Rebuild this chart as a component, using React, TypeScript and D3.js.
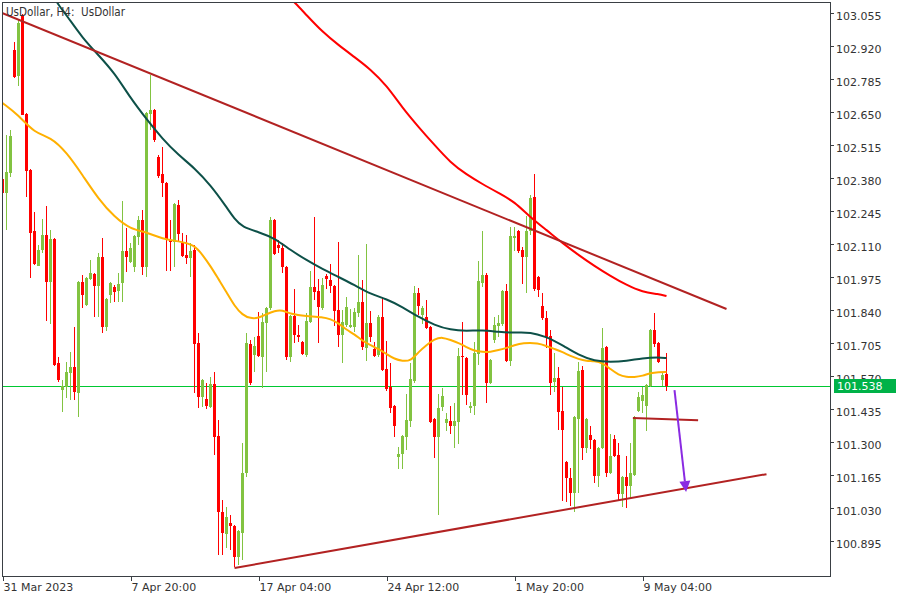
import React from 'react';
import * as d3 from 'd3';

const W = 900;
const H = 600;

// Time axis
const timeTickBars = [0, 32, 64, 96, 128, 160];
const timeTickLabels = ['31 Mar 2023', '7 Apr 20:00', '17 Apr 04:00', '24 Apr 12:00', '1 May 20:00', '9 May 04:00'];

// Price axis
const priceTicks = [103.055, 102.92, 102.785, 102.65, 102.515, 102.38, 102.245, 102.11, 101.975, 101.84, 101.705, 101.57, 101.435, 101.3, 101.165, 101.03, 100.895];
const lastPrice = 101.538;

// H4 candles (bar index = position in array)
const openP = [
  102.385, 102.328, 102.409, 102.913, 102.807, 103.052, 102.651, 102.422, 102.172, 102.029,
  102.094, 102.156, 101.963, 102.139, 101.632, 101.521, 101.534, 101.591, 101.615, 101.509,
  101.963, 101.869, 101.976, 101.996, 101.947, 102.066, 101.779, 101.910, 101.943, 101.926,
  101.959, 102.090, 102.045, 102.025, 102.148, 102.217, 102.025, 102.651, 102.667, 102.475,
  102.405, 102.369, 102.135, 102.127, 102.279, 102.123, 102.074, 102.061, 102.094, 101.714,
  101.493, 101.484, 101.452, 101.546, 101.333, 101.022, 100.932, 100.977, 100.965, 100.838,
  100.936, 101.181, 101.709, 101.664, 101.742, 101.656, 101.796, 101.857, 102.217, 102.115,
  102.102, 102.025, 101.656, 101.824, 101.746, 101.718, 101.664, 101.800, 101.943, 101.926,
  101.857, 101.988, 101.971, 101.947, 101.849, 101.746, 101.787, 101.779, 101.779, 101.836,
  101.881, 101.693, 101.796, 101.689, 101.664, 101.820, 101.607, 101.534, 101.456, 101.247,
  101.259, 101.329, 101.394, 101.558, 101.918, 101.828, 101.820, 101.779, 101.402, 101.329,
  101.452, 101.386, 101.394, 101.374, 101.390, 101.660, 101.652, 101.447, 101.456, 101.669,
  101.959, 101.992, 101.550, 101.726, 101.783, 101.791, 101.926, 101.640, 102.143, 102.172,
  102.094, 102.066, 102.172, 102.311, 101.984, 101.865, 101.816, 101.742, 101.554, 101.570,
  101.435, 101.226, 101.161, 101.100, 101.402, 101.603, 101.285, 101.337, 101.316, 101.169,
  101.285, 101.697, 101.181, 101.321, 101.255, 101.096, 101.165, 101.128, 101.173, 101.435,
  101.476, 101.456, 101.538, 101.767, 101.714, 101.562, 101.587,
];
const highP = [
  102.397, 102.565, 102.585, 102.946, 103.036, 103.060, 102.655, 102.425, 102.250, 102.115,
  102.221, 102.274, 102.176, 102.143, 101.656, 101.562, 101.636, 101.677, 101.779, 101.967,
  101.992, 101.984, 102.053, 102.000, 102.082, 102.143, 101.898, 101.963, 101.951, 102.000,
  102.295, 102.184, 102.123, 102.156, 102.233, 102.258, 102.659, 102.811, 102.670, 102.483,
  102.516, 102.373, 102.217, 102.287, 102.299, 102.164, 102.156, 102.123, 102.115, 101.755,
  101.566, 101.550, 101.574, 101.595, 101.398, 101.071, 101.042, 101.010, 100.969, 100.948,
  101.304, 101.755, 101.726, 101.738, 101.840, 101.836, 101.861, 102.229, 102.221, 102.135,
  102.123, 102.029, 101.828, 101.935, 101.787, 101.722, 101.836, 102.008, 102.229, 101.976,
  101.980, 101.996, 102.037, 101.951, 102.127, 101.849, 101.902, 101.853, 101.857, 102.074,
  101.971, 102.119, 101.845, 101.718, 101.828, 101.902, 101.722, 101.632, 101.460, 101.288,
  101.337, 101.505, 101.632, 101.947, 101.939, 101.865, 101.890, 101.783, 101.406, 101.505,
  101.529, 101.427, 101.456, 101.468, 101.693, 101.800, 101.656, 101.472, 101.718, 102.049,
  102.172, 102.000, 101.648, 101.820, 101.828, 101.930, 101.955, 102.188, 102.188, 102.176,
  102.107, 102.233, 102.319, 102.405, 101.988, 101.918, 101.845, 101.767, 101.673, 101.615,
  101.534, 101.230, 101.202, 101.415, 101.636, 101.619, 101.406, 101.374, 101.320, 101.288,
  101.775, 101.701, 101.341, 101.337, 101.304, 101.169, 101.251, 101.304, 101.415, 101.513,
  101.534, 101.546, 101.771, 101.836, 101.718, 101.591, 101.673,
];
const lowP = [
  102.319, 102.176, 102.393, 102.798, 102.766, 102.645, 102.311, 101.980, 102.035, 102.027,
  102.082, 101.804, 101.791, 101.620, 101.554, 101.431, 101.488, 101.480, 101.480, 101.411,
  101.857, 101.865, 101.971, 101.820, 101.820, 101.755, 101.763, 101.877, 101.881, 101.881,
  101.881, 102.004, 102.043, 102.004, 102.115, 101.992, 101.984, 102.585, 102.536, 102.389,
  102.311, 102.008, 102.008, 102.025, 102.127, 102.066, 102.037, 101.984, 101.509, 101.447,
  101.452, 101.443, 101.447, 101.255, 100.846, 100.846, 100.875, 100.866, 100.797, 100.805,
  100.825, 101.165, 101.542, 101.595, 101.656, 101.529, 101.595, 101.849, 102.074, 102.082,
  102.000, 101.644, 101.636, 101.714, 101.718, 101.664, 101.656, 101.796, 101.890, 101.714,
  101.849, 101.935, 101.918, 101.783, 101.697, 101.632, 101.779, 101.775, 101.759, 101.820,
  101.685, 101.640, 101.718, 101.656, 101.656, 101.599, 101.517, 101.427, 101.329, 101.198,
  101.198, 101.276, 101.370, 101.550, 101.828, 101.791, 101.771, 101.386, 101.243, 101.010,
  101.435, 101.353, 101.341, 101.285, 101.300, 101.501, 101.460, 101.427, 101.419, 101.624,
  101.943, 101.468, 101.546, 101.714, 101.738, 101.783, 101.636, 101.619, 102.090, 102.082,
  101.955, 101.918, 102.156, 101.926, 101.902, 101.808, 101.693, 101.501, 101.513, 101.357,
  101.067, 101.063, 101.046, 101.022, 101.100, 101.235, 101.263, 101.280, 101.140, 101.124,
  101.281, 101.165, 101.177, 101.247, 101.067, 101.042, 101.038, 101.079, 101.169, 101.431,
  101.427, 101.353, 101.534, 101.697, 101.632, 101.538, 101.517,
];
const closeP = [
  102.328, 102.414, 102.561, 102.802, 103.023, 102.647, 102.418, 102.164, 102.037, 102.094,
  102.156, 101.963, 102.139, 101.624, 101.562, 101.538, 101.595, 101.615, 101.513, 101.963,
  101.910, 101.980, 102.000, 101.947, 102.066, 101.779, 101.894, 101.959, 101.922, 101.955,
  102.090, 102.066, 102.102, 102.152, 102.217, 102.025, 102.655, 102.667, 102.545, 102.397,
  102.369, 102.135, 102.127, 102.283, 102.160, 102.070, 102.061, 102.090, 101.709, 101.493,
  101.562, 101.456, 101.546, 101.329, 101.022, 100.936, 101.001, 100.965, 100.838, 100.944,
  101.181, 101.714, 101.550, 101.701, 101.660, 101.800, 101.857, 102.217, 102.078, 102.102,
  102.025, 101.656, 101.824, 101.746, 101.738, 101.669, 101.804, 101.943, 101.922, 101.861,
  101.951, 101.976, 101.947, 101.845, 101.746, 101.800, 101.861, 101.787, 101.840, 101.881,
  101.697, 101.796, 101.738, 101.660, 101.820, 101.603, 101.525, 101.447, 101.374, 101.259,
  101.333, 101.398, 101.566, 101.918, 101.865, 101.857, 101.775, 101.390, 101.329, 101.447,
  101.497, 101.402, 101.374, 101.394, 101.660, 101.656, 101.501, 101.456, 101.673, 101.967,
  101.992, 101.550, 101.644, 101.787, 101.796, 101.926, 101.640, 102.152, 102.152, 102.090,
  102.066, 102.172, 102.307, 101.935, 101.931, 101.816, 101.738, 101.550, 101.570, 101.431,
  101.357, 101.161, 101.100, 101.411, 101.599, 101.285, 101.402, 101.316, 101.169, 101.285,
  101.693, 101.181, 101.251, 101.251, 101.096, 101.165, 101.128, 101.181, 101.411, 101.493,
  101.501, 101.542, 101.767, 101.709, 101.636, 101.583, 101.538,
];

// Moving averages: [bar index, price]
const maOrange: [number, number][] = [
  [0, 102.696], [4, 102.647], [8, 102.573], [12, 102.557], [16, 102.495], [20, 102.401],
  [24, 102.303], [28, 102.229], [32, 102.180], [36, 102.168], [40, 102.139], [44, 102.131],
  [48, 102.115], [50, 102.074], [52, 102.029], [54, 101.975], [56, 101.922], [58, 101.865],
  [60, 101.828], [62, 101.814], [64, 101.816], [66, 101.832], [68, 101.845], [70, 101.849],
  [72, 101.832], [76, 101.824], [80, 101.820], [82, 101.812], [84, 101.795], [86, 101.767],
  [88, 101.750], [90, 101.722], [92, 101.705], [94, 101.689], [96, 101.669], [98, 101.648],
  [100, 101.640], [102, 101.640], [104, 101.677], [106, 101.705], [108, 101.730], [110, 101.738],
  [112, 101.726], [114, 101.714], [116, 101.697], [118, 101.681], [120, 101.677], [122, 101.677],
  [124, 101.685], [126, 101.693], [128, 101.705], [130, 101.714], [134, 101.714], [136, 101.701],
  [138, 101.689], [140, 101.677], [142, 101.660], [144, 101.648], [146, 101.640], [148, 101.640],
  [150, 101.632], [152, 101.607], [154, 101.583], [156, 101.574], [158, 101.574], [160, 101.579],
  [162, 101.591], [164, 101.595], [166, 101.595],
];
const maTeal: [number, number][] = [
  [13, 103.126], [14, 103.097], [16, 103.056], [20, 102.962], [24, 102.892], [28, 102.819],
  [32, 102.716], [36, 102.630], [40, 102.549], [44, 102.483], [48, 102.430], [52, 102.360],
  [56, 102.270], [58, 102.221], [60, 102.188], [64, 102.168], [68, 102.143], [72, 102.094],
  [76, 102.053], [80, 102.016], [84, 101.984], [88, 101.951], [92, 101.914], [96, 101.894],
  [100, 101.861], [104, 101.820], [108, 101.787], [112, 101.767], [116, 101.763], [120, 101.767],
  [124, 101.759], [128, 101.755], [132, 101.759], [136, 101.738], [138, 101.722], [140, 101.705],
  [144, 101.664], [148, 101.640], [152, 101.636], [156, 101.640], [160, 101.652], [164, 101.656],
  [166, 101.652],
];
const maRed: [number, number][] = [
  [72, 103.122], [73, 103.109], [76, 103.056], [80, 102.987], [84, 102.933], [88, 102.884],
  [92, 102.834], [96, 102.768], [100, 102.676], [104, 102.598], [108, 102.524], [112, 102.452],
  [116, 102.403], [120, 102.364], [124, 102.328], [128, 102.292], [132, 102.227], [136, 102.176],
  [140, 102.123], [144, 102.074], [148, 102.029], [152, 101.988], [156, 101.951], [160, 101.922],
  [164, 101.914], [166, 101.906],
];

// Drawn objects: [bar index, price]
const upperTrend: [number, number][] = [[0, 103.064], [181, 101.853]];
const lowerTrend: [number, number][] = [[58, 100.793], [191, 101.177]];
const levelLine: [number, number][] = [[157.6, 101.407], [173.9, 101.398]];
const arrowPath: [number, number][] = [[168, 101.521], [170.9, 101.104]];

const PLOT = { left: 2.5, top: 2.5, right: 830.5, bottom: 576.5 };

export default function App() {
  const xs = d3.scaleLinear().domain([0, 160]).range([2.5, 642.5]);
  const ys = d3.scaleLinear().domain([lastPrice, 103.055]).range([385.94, 15.3]);

  const maLine = d3
    .line<[number, number]>()
    .x((d) => xs(d[0]))
    .y((d) => ys(d[1]))
    .curve(d3.curveBasis);
  const straight = d3
    .line<[number, number]>()
    .x((d) => xs(d[0]))
    .y((d) => ys(d[1]));

  // arrow head
  const ax0 = xs(arrowPath[0][0]);
  const ay0 = ys(arrowPath[0][1]);
  const ax1 = xs(arrowPath[1][0]);
  const ay1 = ys(arrowPath[1][1]);
  const ang = Math.atan2(ay1 - ay0, ax1 - ax0);
  const hl = 11;
  const hw = 5.5;
  const bx = ax1 - hl * Math.cos(ang);
  const by = ay1 - hl * Math.sin(ang);
  const head = [
    [ax1, ay1],
    [bx + hw * Math.sin(ang), by - hw * Math.cos(ang)],
    [bx - hw * Math.sin(ang), by + hw * Math.cos(ang)],
  ]
    .map((p) => p.join(','))
    .join(' ');

  const green = '#82C341';
  const red = '#FF0000';
  const axisColor = '#3A3F44';
  const textColor = '#333333';
  const font = '"DejaVu Sans", Verdana, sans-serif';

  const yLast = ys(lastPrice);
  const yLastPx = Math.round(yLast) + 0.5;

  return (
    <svg
      width={W}
      height={H}
      viewBox={`0 0 ${W} ${H}`}
      style={{ position: 'fixed', left: 0, top: 0, background: '#FFFFFF' }}
      fontFamily={font}
    >
      <defs>
        <clipPath id="plotClip">
          <rect x={3} y={3} width={827} height={573} />
        </clipPath>
      </defs>
      <rect x={0} y={0} width={W} height={H} fill="#FFFFFF" />

      <g clipPath="url(#plotClip)">
        {/* price line */}
        <line x1={3} x2={830} y1={yLastPx} y2={yLastPx} stroke="#00C832" strokeWidth={1} shapeRendering="crispEdges" />

        {/* candles */}
        <g shapeRendering="crispEdges">
          {openP.map((o, i) => {
            const c = closeP[i];
            const up = c >= o;
            const col = up ? green : red;
            const cx = xs(i);
            const yh = ys(highP[i]);
            const yl = ys(lowP[i]);
            const yt = ys(Math.max(o, c));
            const yb = ys(Math.min(o, c));
            return (
              <g key={i} fill={col}>
                <rect x={cx - 0.5} y={yh} width={1} height={Math.max(1, yl - yh)} />
                <rect x={cx - 1.5} y={yt} width={3} height={Math.max(1, yb - yt)} />
              </g>
            );
          })}
        </g>

        {/* moving averages */}
        <path d={maLine(maOrange) || ''} fill="none" stroke="#FFB000" strokeWidth={2} />
        <path d={maLine(maTeal) || ''} fill="none" stroke="#0D5048" strokeWidth={2} />
        <path d={maLine(maRed) || ''} fill="none" stroke="#FF0000" strokeWidth={2} />

        {/* trendlines */}
        <path d={straight(upperTrend) || ''} fill="none" stroke="#B22222" strokeWidth={2} />
        <path d={straight(lowerTrend) || ''} fill="none" stroke="#B22222" strokeWidth={2} />
        <path d={straight(levelLine) || ''} fill="none" stroke="#B22222" strokeWidth={2} />

        {/* arrow */}
        <line x1={ax0} y1={ay0} x2={bx} y2={by} stroke="#8A2BE2" strokeWidth={2} />
        <polygon points={head} fill="#8A2BE2" />
      </g>

      {/* frame */}
      <rect
        x={PLOT.left}
        y={PLOT.top}
        width={PLOT.right - PLOT.left}
        height={PLOT.bottom - PLOT.top}
        fill="none"
        stroke={axisColor}
        strokeWidth={1}
        shapeRendering="crispEdges"
      />

      {/* title */}
      <text x={6} y={16} fontSize={12} fill={textColor} textLength={119} lengthAdjust="spacingAndGlyphs" style={{ whiteSpace: 'pre' }}>
        {'UsDollar, H4:  UsDollar'}
      </text>

      {/* price axis */}
      <g shapeRendering="crispEdges">
        {priceTicks.map((v) => (
          <g key={v}>
            <line x1={830.5} x2={834} y1={Math.round(ys(v)) - 1.5} y2={Math.round(ys(v)) - 1.5} stroke={axisColor} strokeWidth={1} />
            <text x={836} y={ys(v) + 4.5} fontSize={11} fill={textColor}>
              {v.toFixed(3)}
            </text>
          </g>
        ))}
      </g>
      <rect x={834} y={yLast - 7} width={62} height={14} fill="#00B248" shapeRendering="crispEdges" />
      <text x={837} y={yLast + 4.5} fontSize={11} fill="#FFFFFF">
        {lastPrice.toFixed(3)}
      </text>

      {/* time axis */}
      <g shapeRendering="crispEdges">
        {timeTickBars.map((b, k) => (
          <g key={b}>
            <line x1={Math.round(xs(b)) + 0.5} x2={Math.round(xs(b)) + 0.5} y1={576.5} y2={581} stroke={axisColor} strokeWidth={1} />
            <text x={xs(b) + 1} y={591} fontSize={11} fill={textColor}>
              {timeTickLabels[k]}
            </text>
          </g>
        ))}
      </g>
    </svg>
  );
}
